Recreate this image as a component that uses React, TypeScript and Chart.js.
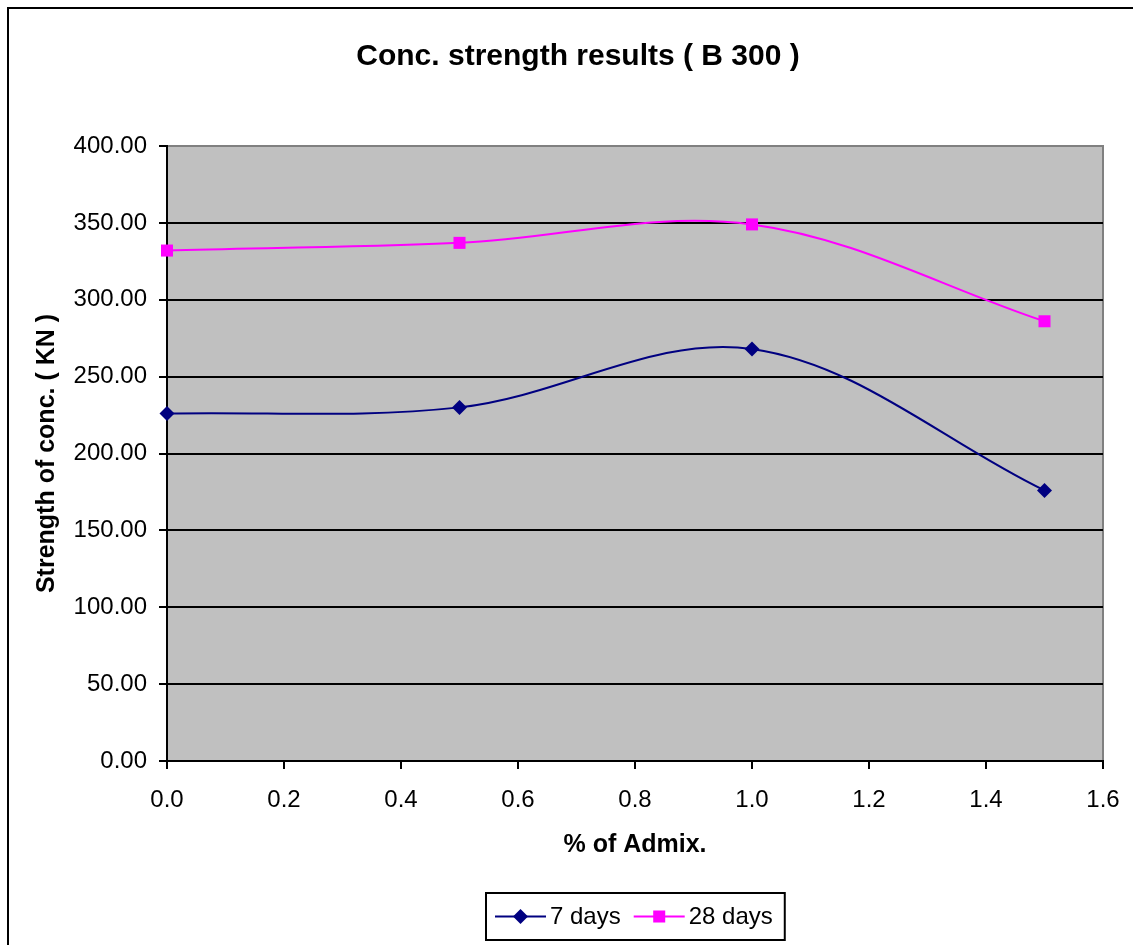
import React, { useEffect, useRef } from "react";
import { Chart, registerables } from "chart.js";

Chart.register(...registerables);

// ---- data ----
const admixPercent = [0, 0.5, 1.0, 1.5];
const strength7Days = [226, 230, 268, 176];
const strength28Days = [332, 337, 349, 286];
const seriesNames = ["7 days", "28 days"];
const chartTitle = "Conc. strength results ( B 300 )";
const xAxisTitle = "% of Admix.";
const yAxisTitle = "Strength of conc. ( KN )";

const FONT = '"Liberation Sans", Arial, Helvetica, sans-serif';
const CANVAS_W = 1158;
const CANVAS_H = 960;

const backgroundPlugin = {
  id: "excelBackground",
  beforeDraw(chart: any) {
    const { ctx, chartArea: a } = chart;
    ctx.save();
    ctx.fillStyle = "#ffffff";
    ctx.fillRect(0, 0, chart.width, chart.height);
    // outer chart border
    ctx.strokeStyle = "#000000";
    ctx.lineWidth = 2;
    ctx.beginPath();
    ctx.moveTo(8, chart.height + 10);
    ctx.lineTo(8, 8);
    ctx.lineTo(chart.width + 10, 8);
    ctx.stroke();
    // plot area
    ctx.fillStyle = "#C0C0C0";
    ctx.fillRect(a.left, a.top, a.right - a.left, a.bottom - a.top);
    ctx.strokeStyle = "#808080";
    ctx.lineWidth = 2;
    ctx.strokeRect(a.left, a.top, a.right - a.left, a.bottom - a.top);
    // chart title
    ctx.fillStyle = "#000000";
    ctx.font = `bold 30px ${FONT}`;
    ctx.textAlign = "center";
    ctx.textBaseline = "middle";
    ctx.fillText(chartTitle, 578, 57);
    ctx.restore();
  },
};

function drawMarker(ctx: CanvasRenderingContext2D, style: string, x: number, y: number, r: number, color: string) {
  ctx.fillStyle = color;
  ctx.beginPath();
  if (style === "rectRot") {
    ctx.moveTo(x - r, y);
    ctx.lineTo(x, y - r);
    ctx.lineTo(x + r, y);
    ctx.lineTo(x, y + r);
    ctx.closePath();
  } else {
    const s = r * Math.SQRT1_2;
    ctx.rect(x - s, y - s, 2 * s, 2 * s);
  }
  ctx.fill();
}

const legendPlugin = {
  id: "excelLegend",
  afterDraw(chart: any) {
    const { ctx, chartArea: a } = chart;
    const datasets = chart.data.datasets;
    ctx.save();
    ctx.font = `24px ${FONT}`;
    const padL = 9;
    const padR = 12;
    const lineLen = 51;
    const gapText = 4;
    const itemGap = 13;
    const widths = datasets.map((d: any) => ctx.measureText(d.label).width);
    let total = padL + padR;
    widths.forEach((w: number, i: number) => {
      total += lineLen + gapText + w + (i > 0 ? itemGap : 0);
    });
    const cx = (a.left + a.right) / 2;
    const boxLeft = Math.round(cx - total / 2);
    const boxTop = a.bottom + 132;
    const boxH = 47;
    const cy = boxTop + boxH / 2;
    ctx.fillStyle = "#ffffff";
    ctx.fillRect(boxLeft, boxTop, total, boxH);
    ctx.strokeStyle = "#000000";
    ctx.lineWidth = 2;
    ctx.strokeRect(boxLeft, boxTop, total, boxH);
    let x = boxLeft + padL;
    datasets.forEach((d: any, i: number) => {
      if (i > 0) x += itemGap;
      ctx.strokeStyle = d.borderColor;
      ctx.lineWidth = 2;
      ctx.beginPath();
      ctx.moveTo(x, cy);
      ctx.lineTo(x + lineLen, cy);
      ctx.stroke();
      drawMarker(ctx, d.pointStyle, x + lineLen / 2, cy, d.pointRadius, d.pointBackgroundColor);
      x += lineLen + gapText;
      ctx.fillStyle = "#000000";
      ctx.textAlign = "left";
      ctx.textBaseline = "middle";
      ctx.fillText(d.label, x, cy + 1);
      x += widths[i];
    });
    ctx.restore();
  },
};

export default function App() {
  const canvasRef = useRef<HTMLCanvasElement | null>(null);

  useEffect(() => {
    const canvas = canvasRef.current;
    if (!canvas) return;
    const chart = new Chart(canvas, {
      type: "line",
      data: {
        datasets: [
          {
            label: seriesNames[0],
            data: admixPercent.map((x, i) => ({ x, y: strength7Days[i] })),
            borderColor: "#000080",
            backgroundColor: "#000080",
            pointBackgroundColor: "#000080",
            pointBorderColor: "#000080",
            pointStyle: "rectRot",
            pointRadius: 7.5,
            pointBorderWidth: 0,
            borderWidth: 2,
            tension: 0.35,
            fill: false,
            clip: false,
          },
          {
            label: seriesNames[1],
            data: admixPercent.map((x, i) => ({ x, y: strength28Days[i] })),
            borderColor: "#FF00FF",
            backgroundColor: "#FF00FF",
            pointBackgroundColor: "#FF00FF",
            pointBorderColor: "#FF00FF",
            pointStyle: "rect",
            pointRadius: 8.5,
            pointBorderWidth: 0,
            borderWidth: 2,
            tension: 0.35,
            fill: false,
            clip: false,
          },
        ] as any,
      },
      options: {
        responsive: false,
        animation: false,
        devicePixelRatio: 1,
        layout: { padding: { left: 0, right: CANVAS_W - 1103, top: 146, bottom: 100 } },
        plugins: {
          legend: { display: false },
          tooltip: { enabled: false },
          title: { display: false },
        },
        scales: {
          x: {
            type: "linear",
            min: 0,
            max: 1.6,
            afterFit(scale: any) {
              scale.height = 99;
            },
            ticks: {
              stepSize: 0.2,
              color: "#000000",
              padding: 17,
              font: { family: FONT, size: 24 },
              callback: (v: any) => Number(v).toFixed(1),
              maxRotation: 0,
            },
            grid: {
              drawOnChartArea: false,
              drawTicks: true,
              tickLength: 8,
              tickColor: "#000000",
              tickWidth: 2,
              color: "#000000",
              lineWidth: 2,
            },
            border: { display: true, color: "#000000", width: 2 },
            title: {
              display: true,
              text: xAxisTitle,
              color: "#000000",
              font: { family: FONT, size: 25, weight: "bold", lineHeight: 1.2 },
              padding: { top: 0, bottom: 0 },
            },
          },
          y: {
            type: "linear",
            min: 0,
            max: 400,
            afterFit(scale: any) {
              scale.width = 167;
            },
            ticks: {
              stepSize: 50,
              color: "#000000",
              padding: 12,
              font: { family: FONT, size: 24 },
              callback: (v: any) => Number(v).toFixed(2),
            },
            grid: {
              drawOnChartArea: true,
              drawTicks: true,
              tickLength: 8,
              tickColor: "#000000",
              tickWidth: 2,
              lineWidth: 2,
              color: (c: any) => (c.tick && c.tick.value === 400 ? "rgba(0,0,0,0)" : "#000000"),
            },
            border: { display: true, color: "#000000", width: 2 },
            title: {
              display: true,
              text: yAxisTitle,
              color: "#000000",
              font: { family: FONT, size: 25, weight: "bold", lineHeight: 1.2 },
              padding: { top: 32, bottom: 0 },
            },
          },
        },
      } as any,
      plugins: [backgroundPlugin, legendPlugin],
    });
    return () => chart.destroy();
  }, []);

  return (
    <div
      style={{
        position: "fixed",
        left: 0,
        top: 0,
        width: 1133,
        height: 945,
        overflow: "hidden",
        background: "#ffffff",
      }}
    >
      <canvas
        ref={canvasRef}
        width={CANVAS_W}
        height={CANVAS_H}
        style={{ width: CANVAS_W, height: CANVAS_H, display: "block" }}
      />
    </div>
  );
}
